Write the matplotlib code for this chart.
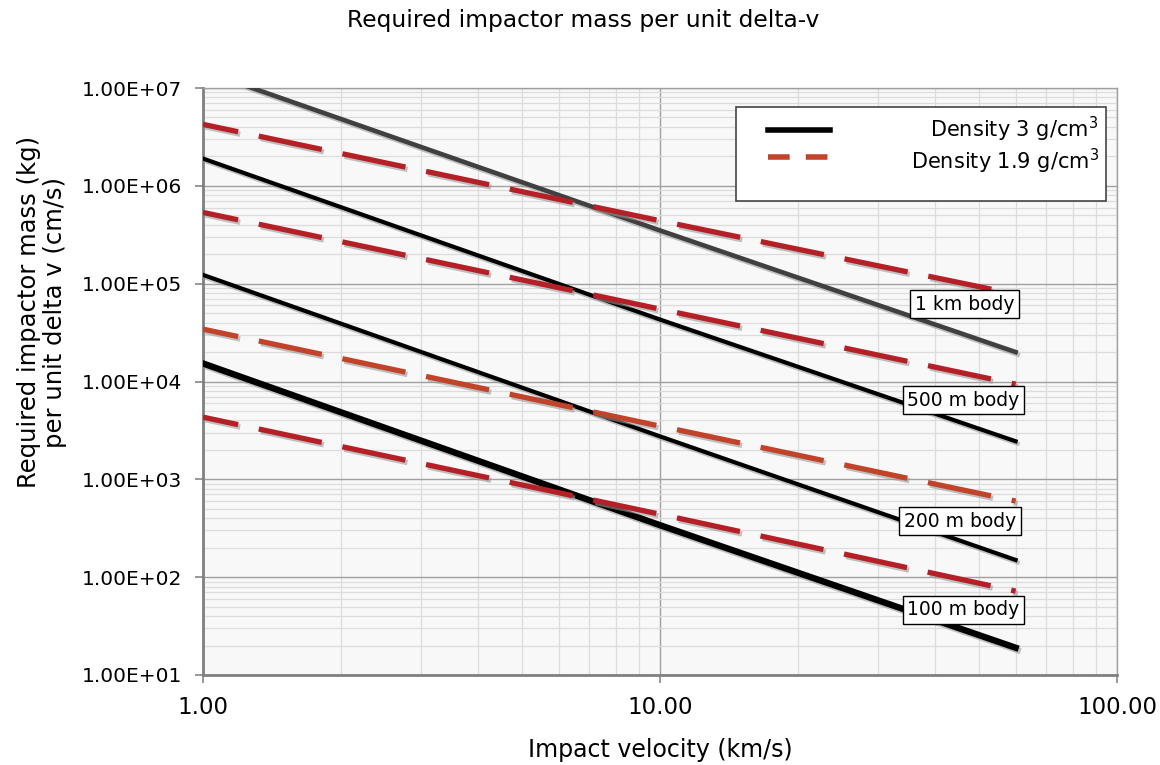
import matplotlib
matplotlib.use("Agg")
import matplotlib.pyplot as plt
import matplotlib.patheffects as pe
from matplotlib.lines import Line2D
from matplotlib.patches import Rectangle
from matplotlib.ticker import FuncFormatter, LogLocator

# impact velocity (km/s)
velocity = [1, 10, 60]

# density 3 g/cm3 (solid)
solid_1km = [1.5e7, 3.5e5, 2.0e4]
solid_500m = [1.9e6, 4.3e4, 2.45e3]
solid_200m = [1.23e5, 2.75e3, 1.5e2]
solid_100m = [1.53e4, 3.4e2, 19]

# density 1.9 g/cm3 (dashed)
dash_1km = [4.25e6, 4.4e5, 7.8e4]
dash_500m = [5.35e5, 5.5e4, 9.4e3]
dash_200m = [3.43e4, 3.5e3, 6.0e2]
dash_100m = [4.32e3, 4.4e2, 72]

body_labels = ["1 km body", "500 m body", "200 m body", "100 m body"]
legend_labels = ["Density 3 g/cm$^3$", "Density 1.9 g/cm$^3$"]

red = "#b51f26"
orange = "#c0432a"

fig = plt.figure(figsize=(11.6, 7.65), dpi=100)
ax = fig.add_axes([203 / 1160, 1 - 675 / 765, 914 / 1160, 587 / 765])
ax.set_facecolor("#f8f8f8")

shadow = [pe.SimpleLineShadow(offset=(1.5, -1.8), shadow_color="#9a9a9a", alpha=0.6),
          pe.Normal()]
dash_style = (5.4, (12.2, 4.0))

ax.plot(velocity, solid_1km, color="#404040", lw=3.3, path_effects=shadow, zorder=3)
ax.plot(velocity, solid_500m, color="black", lw=3.0, path_effects=shadow, zorder=3)
ax.plot(velocity, solid_200m, color="black", lw=3.0, path_effects=shadow, zorder=3)
ax.plot(velocity, solid_100m, color="black", lw=4.6, path_effects=shadow, zorder=3)

ax.plot(velocity, dash_1km, color=red, lw=3.8, ls=dash_style, path_effects=shadow, zorder=4)
ax.plot(velocity, dash_500m, color=red, lw=3.8, ls=dash_style, path_effects=shadow, zorder=4)
ax.plot(velocity, dash_200m, color=orange, lw=3.8, ls=dash_style, path_effects=shadow, zorder=4)
ax.plot(velocity, dash_100m, color=red, lw=3.8, ls=dash_style, path_effects=shadow, zorder=4)

ax.set_xscale("log")
ax.set_yscale("log")
ax.set_xlim(1, 100)
ax.set_ylim(10, 1e7)

ax.xaxis.set_major_locator(LogLocator(base=10, numticks=10))
ax.yaxis.set_major_locator(LogLocator(base=10, numticks=10))
ax.xaxis.set_minor_locator(LogLocator(base=10, subs=range(2, 10), numticks=20))
ax.yaxis.set_minor_locator(LogLocator(base=10, subs=range(2, 10), numticks=20))
ax.xaxis.set_major_formatter(FuncFormatter(lambda v, p: "%.2f" % v))
ax.yaxis.set_major_formatter(FuncFormatter(lambda v, p: "%.2E" % v))
ax.xaxis.set_minor_formatter(FuncFormatter(lambda v, p: ""))
ax.yaxis.set_minor_formatter(FuncFormatter(lambda v, p: ""))

ax.grid(which="major", color="#a0a0a0", lw=1.0, zorder=0)
ax.grid(which="minor", color="#dcdcdc", lw=0.9, zorder=0)
ax.set_axisbelow(True)

ax.tick_params(which="major", length=6, width=1.2, color="#888888")
ax.tick_params(which="minor", length=0)
ax.tick_params(axis="y", labelsize=14.5, pad=9)
ax.tick_params(axis="x", labelsize=16.5, pad=9)

for side in ["top", "right"]:
    ax.spines[side].set_color("#a0a0a0")
    ax.spines[side].set_linewidth(1.0)
for side in ["left", "bottom"]:
    ax.spines[side].set_color("#808080")
    ax.spines[side].set_linewidth(2.0)

# body labels
label_pos = [(0.833, 0.632), (0.832, 0.468), (0.828, 0.262), (0.832, 0.111)]
for txt, (lx, ly) in zip(body_labels, label_pos):
    ax.text(lx, ly, txt, transform=ax.transAxes, ha="center", va="center",
            fontsize=13.5, zorder=6,
            bbox=dict(boxstyle="square,pad=0.25", fc="white", ec="black", lw=1.0))

# legend drawn by hand so the text sits right-aligned
ax.add_patch(Rectangle((0.583, 0.808), 0.405, 0.16, transform=ax.transAxes,
                       fc="white", ec="#444444", lw=1.2, zorder=6))
ax.add_line(Line2D([0.618, 0.686], [0.929, 0.929], transform=ax.transAxes,
                   color="black", lw=4.0, zorder=7))
ax.add_line(Line2D([0.618, 0.686], [0.882, 0.882], transform=ax.transAxes,
                   color=orange, lw=4.0, ls=(0, (3.9, 2.9)), zorder=7))
ax.text(0.980, 0.929, legend_labels[0], transform=ax.transAxes, ha="right",
        va="center", fontsize=15, zorder=7)
ax.text(0.980, 0.875, legend_labels[1], transform=ax.transAxes, ha="right",
        va="center", fontsize=15, zorder=7)

fig.text(0.503, 1 - 20 / 765, "Required impactor mass per unit delta-v",
         ha="center", va="center", fontsize=16.8)
ax.set_xlabel("Impact velocity (km/s)", fontsize=17, labelpad=14)
fig.text(42 / 1160, 1 - 312 / 765, "Required impactor mass (kg)\nper unit delta v (cm/s)",
         rotation=90, ha="center", va="center", fontsize=17.5, multialignment="center",
         linespacing=1.15)

fig.savefig("out.png", dpi=100)
